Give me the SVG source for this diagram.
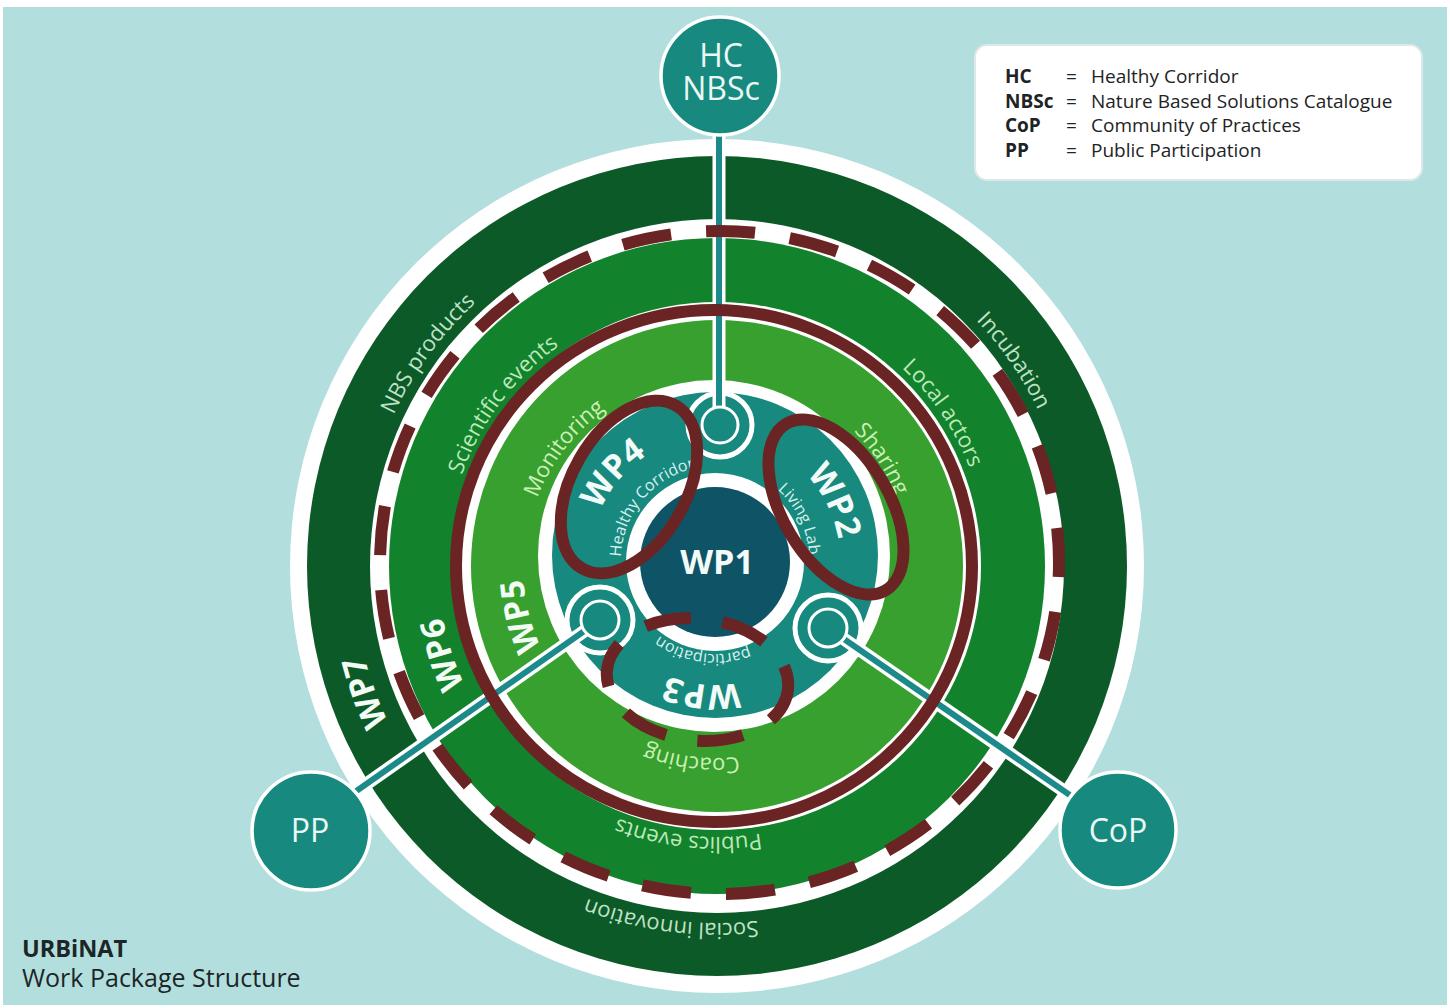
<svg xmlns="http://www.w3.org/2000/svg" xmlns:xlink="http://www.w3.org/1999/xlink" width="1450" height="1008" viewBox="0 0 1450 1008">
<style>
  text { font-family: "Open Sans", "Noto Sans", "Liberation Sans", sans-serif; }
  .l7 { font-size: 22px; fill: #bfe2c6; }
  .l6 { font-size: 22px; fill: #bde9b9; }
  .l5 { font-size: 22px; fill: #cdf0b6; }
  .wp { font-size: 33px; font-weight: 700; fill: #f3fbf5; }
  .wpi { font-size: 34px; font-weight: 700; fill: #f3fbf8; }
  .sub { font-size: 16px; fill: #d8f1ee; }
  .node { fill: #17897f; stroke: #ffffff; stroke-width: 3.5; }
  .ntxt { font-size: 32px; fill: #eaf8f5; text-anchor: middle; }
  .lk { font-size: 19px; font-weight: 700; fill: #1e2424; }
  .lv { font-size: 19px; fill: #1e2424; }
  .red { fill: none; stroke: #6a2424; stroke-width: 12; }
  .lnw { stroke: #ffffff; stroke-width: 13; stroke-linecap: butt; }
  .lnt { stroke: #1c8a8a; stroke-width: 6; stroke-linecap: butt; }
  .teal { fill: #17897f; }
  .joint { fill: #17897f; stroke: #ffffff; stroke-width: 3; }
  .collar { fill: #17897f; stroke: #ffffff; stroke-width: 5; }
</style>
<defs>
  <path id="c357" d="M 360,566 A 357 357 0 1 1 1074,566 A 357 357 0 1 1 360,566"/>
  <path id="c364" d="M 353,566 A 364 364 0 1 1 1081,566 A 364 364 0 1 1 353,566"/>
  <path id="c271" d="M 446,566 A 271 271 0 1 1 988,566 A 271 271 0 1 1 446,566"/>
  <path id="c279" d="M 438,566 A 279 279 0 1 1 996,566 A 279 279 0 1 1 438,566"/>
  <path id="c192" d="M 525,566 A 192 192 0 1 1 909,566 A 192 192 0 1 1 525,566"/>
  <path id="c194" d="M 523,566 A 194 194 0 1 1 911,566 A 194 194 0 1 1 523,566"/>
  <path id="i125" d="M 590,560 A 125 125 0 1 1 840,560 A 125 125 0 1 1 590,560"/>
  <path id="i94" d="M 621,560 A 94 94 0 1 1 809,560 A 94 94 0 1 1 621,560"/>
</defs>

<rect x="0" y="0" width="1450" height="1008" fill="#ffffff"/>
<rect x="3" y="7" width="1444" height="998" fill="#b3dede"/>

<g id="legend">
  <rect x="975" y="45" width="447" height="135" rx="12" fill="#ffffff" stroke="#dde8e8" stroke-width="2"/>
  <text class="lk" x="1005" y="83">HC</text>
  <text class="lk" x="1005" y="108">NBSc</text>
  <text class="lk" x="1005" y="132">CoP</text>
  <text class="lk" x="1005" y="157">PP</text>
  <text class="lv" x="1066" y="83">=</text>
  <text class="lv" x="1066" y="108">=</text>
  <text class="lv" x="1066" y="132">=</text>
  <text class="lv" x="1066" y="157">=</text>
  <text class="lv" x="1091" y="83">Healthy Corridor</text>
  <text class="lv" x="1091" y="108">Nature Based Solutions Catalogue</text>
  <text class="lv" x="1091" y="132">Community of Practices</text>
  <text class="lv" x="1091" y="157">Public Participation</text>
</g>

<g id="title">
  <text x="22" y="957" font-size="23.5" font-weight="700" fill="#1c2626">URBiNAT</text>
  <text x="22" y="987" font-size="25" fill="#1c2626">Work Package Structure</text>
</g>

<g id="wp7">
  <circle cx="717" cy="566" r="427" fill="#ffffff"/>
  <circle cx="717" cy="566" r="410" fill="#0c5a28"/>
  <circle cx="717" cy="566" r="347" fill="#ffffff"/>
</g>
<g id="wp6">
  <circle cx="717" cy="566" r="328" fill="#13822c"/>
  <circle cx="717" cy="566" r="264" fill="#ffffff"/>
</g>
<g id="wp5">
  <circle cx="717" cy="566" r="246" fill="#37a02e"/>
  <circle cx="714" cy="556" r="176" fill="#ffffff"/>
</g>

<g id="lobes">
  <circle class="teal" cx="715" cy="555" r="163"/>
  <circle cx="715" cy="562" r="89" fill="#ffffff"/>
  <circle class="collar" cx="720" cy="425" r="32"/>
  <circle class="collar" cx="600" cy="620" r="33"/>
  <circle class="collar" cx="828" cy="628" r="33"/>
</g>
<g id="wp1">
  <circle cx="715" cy="562" r="75" fill="#0f5366"/>
  <text class="wpi" x="717" y="574" text-anchor="middle" font-size="35">WP1</text>
</g>

<g id="connectors">
  <line class="lnw" x1="719" y1="120" x2="719" y2="425"/>
  <line class="lnt" x1="719" y1="120" x2="719" y2="425"/>
  <line class="lnw" x1="600" y1="620" x2="340" y2="802.5"/>
  <line class="lnt" x1="600" y1="620" x2="340" y2="802.5"/>
  <line class="lnw" x1="828" y1="628" x2="1090" y2="809"/>
  <line class="lnt" x1="828" y1="628" x2="1090" y2="809"/>
  <circle class="joint" cx="720" cy="425" r="18"/>
  <circle class="joint" cx="600" cy="620" r="19"/>
  <circle class="joint" cx="828" cy="628" r="19"/>
</g>

<g id="ring-labels">
  <text class="l7" text-anchor="middle"><textPath xlink:href="#c357" href="#c357" startOffset="10.08%">NBS products</textPath></text>
  <text class="l7" text-anchor="middle"><textPath xlink:href="#c357" href="#c357" startOffset="40.36%">Incubation</textPath></text>
  <text class="l7" text-anchor="middle"><textPath xlink:href="#c357" href="#c357" startOffset="77.06%">Social innovation</textPath></text>
  <text class="wp" text-anchor="middle"><textPath xlink:href="#c364" href="#c364" startOffset="94.5%">WP7</textPath></text>

  <text class="l6" text-anchor="middle"><textPath xlink:href="#c271" href="#c271" startOffset="10.28%">Scientific events</textPath></text>
  <text class="l6" text-anchor="middle"><textPath xlink:href="#c271" href="#c271" startOffset="40.53%">Local actors</textPath></text>
  <text class="l6" text-anchor="middle"><textPath xlink:href="#c271" href="#c271" startOffset="76.69%">Publics events</textPath></text>
  <text class="wp" text-anchor="middle"><textPath xlink:href="#c279" href="#c279" startOffset="95.03%">WP6</textPath></text>

  <text class="l5" text-anchor="middle"><textPath xlink:href="#c192" href="#c192" startOffset="10.44%">Monitoring</textPath></text>
  <text class="l5" text-anchor="middle"><textPath xlink:href="#c192" href="#c192" startOffset="40.83%">Sharing</textPath></text>
  <text class="l5" text-anchor="middle"><textPath xlink:href="#c192" href="#c192" startOffset="77.08%">Coaching</textPath></text>
  <text class="wp" text-anchor="middle"><textPath xlink:href="#c194" href="#c194" startOffset="96%">WP5</textPath></text>
</g>

<g id="wp4">
  <text class="wpi" text-anchor="middle"><textPath xlink:href="#i125" href="#i125" startOffset="11.17%">WP4</textPath></text>
  <text class="sub" text-anchor="middle"><textPath xlink:href="#i94" href="#i94" startOffset="11.06%">Healthy Corridor</textPath></text>
</g>
<g id="wp2">
  <text class="wpi" text-anchor="middle"><textPath xlink:href="#i125" href="#i125" startOffset="42.67%">WP2</textPath></text>
  <text class="sub" text-anchor="middle"><textPath xlink:href="#i94" href="#i94" startOffset="42.83%">Living Lab</textPath></text>
</g>
<g id="wp3">
  <text class="wpi" text-anchor="middle"><textPath xlink:href="#i125" href="#i125" startOffset="76.53%">WP3</textPath></text>
  <text class="sub" text-anchor="middle"><textPath xlink:href="#i94" href="#i94" startOffset="77.1%">participation</textPath></text>
</g>

<g id="annotations">
  <ellipse class="red" cx="714" cy="566" rx="258" ry="256" stroke-width="13"/>
  <ellipse class="red" cx="719.5" cy="562.5" rx="339.5" ry="331.5" pathLength="2100" stroke-dasharray="49 35" stroke-dashoffset="34.5"/>
  <ellipse class="red" cx="629" cy="487" rx="57" ry="94" transform="rotate(30 629 487)"/>
  <ellipse class="red" cx="836" cy="507" rx="53" ry="97" transform="rotate(-31 836 507)"/>
  <ellipse class="red" cx="697.5" cy="679.5" rx="91" ry="61" transform="rotate(6 697.5 679.5)" stroke-dasharray="46 32" stroke-dashoffset="10"/>
</g>

<g id="node-hc">
  <circle class="node" cx="720" cy="76" r="59"/>
  <text class="ntxt" x="721" y="67">HC</text>
  <text class="ntxt" x="721" y="100">NBSc</text>
</g>
<g id="node-pp">
  <circle class="node" cx="311" cy="831" r="59"/>
  <text class="ntxt" x="310" y="842" font-size="31">PP</text>
</g>
<g id="node-cop">
  <circle class="node" cx="1118" cy="830" r="58"/>
  <text class="ntxt" x="1118" y="842" font-size="31">CoP</text>
</g>
</svg>
